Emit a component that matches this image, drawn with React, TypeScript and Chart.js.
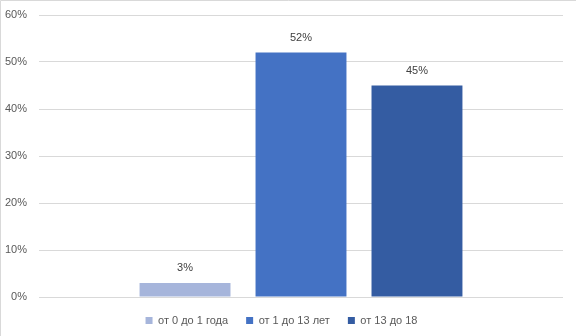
import React, { useEffect, useRef } from "react";
import { Chart, registerables } from "chart.js";

Chart.register(...registerables);

const categories = [""];
const seriesNames = ["от 0 до 1 года", "от 1 до 13 лет", "от 13 до 18"];
const seriesValues = [[3], [52], [45]];
const seriesColors = ["#A6B5DB", "#4472C4", "#345CA2"];
const yTicks = [0, 10, 20, 30, 40, 50, 60];

const FONT = "'Liberation Sans', Arial, sans-serif";

const dataLabelPlugin = {
  id: "dataLabels",
  afterDatasetsDraw(chart: any) {
    const ctx = chart.ctx;
    ctx.save();
    ctx.font = `11px ${FONT}`;
    ctx.fillStyle = "#404040";
    ctx.textAlign = "center";
    ctx.textBaseline = "middle";
    chart.data.datasets.forEach((ds: any, i: number) => {
      const meta = chart.getDatasetMeta(i);
      meta.data.forEach((bar: any, j: number) => {
        ctx.fillText(`${ds.data[j]}%`, bar.x, bar.y - 15);
      });
    });
    ctx.restore();
  },
};

const framePlugin = {
  id: "frame",
  beforeDraw(chart: any) {
    const ctx = chart.ctx;
    ctx.save();
    ctx.fillStyle = "#ffffff";
    ctx.fillRect(0, 0, chart.width, chart.height);
    ctx.strokeStyle = "#D9D9D9";
    ctx.lineWidth = 1;
    ctx.beginPath();
    ctx.moveTo(0.5, chart.height);
    ctx.lineTo(0.5, 0.5);
    ctx.lineTo(chart.width, 0.5);
    ctx.stroke();
    ctx.restore();
  },
};

export default function App() {
  const ref = useRef<HTMLCanvasElement | null>(null);

  useEffect(() => {
    if (!ref.current) return;
    const chart = new Chart(ref.current, {
      type: "bar",
      data: {
        labels: categories,
        datasets: seriesNames.map((name, i) => ({
          label: name,
          data: seriesValues[i],
          backgroundColor: seriesColors[i],
          borderWidth: 0,
          categoryPercentage: 0.664,
          barPercentage: 0.784,
        })),
      },
      options: {
        animation: false,
        responsive: false,
        maintainAspectRatio: false,
        layout: { padding: { left: 0, right: 13, top: 15, bottom: 0 } },
        plugins: {
          tooltip: { enabled: false },
          legend: {
            position: "bottom",
            labels: {
              boxWidth: 7,
              boxHeight: 7,
              padding: 18,
              color: "#595959",
              font: { family: FONT, size: 11 },
            },
          },
        },
        scales: {
          x: { display: false },
          y: {
            min: 0,
            max: 60,
            afterFit: (s: any) => {
              s.width = 39;
              s.paddingTop = 0;
              s.paddingBottom = 0;
            },
            afterBuildTicks: (s: any) => {
              s.ticks = yTicks.map((v) => ({ value: v }));
            },
            border: { display: false },
            grid: { color: "#D9D9D9", drawTicks: false, lineWidth: 1 },
            ticks: {
              padding: 12,
              color: "#595959",
              font: { family: FONT, size: 11 },
              callback: (v: any) => `${v}%`,
            },
          },
        },
      },
      plugins: [framePlugin, dataLabelPlugin],
    });
    return () => chart.destroy();
  }, []);

  return (
    <div style={{ position: "fixed", left: 0, top: 0, width: 576, height: 336, background: "#fff" }}>
      <canvas ref={ref} width={576} height={336} style={{ width: 576, height: 336, display: "block" }} />
    </div>
  );
}
